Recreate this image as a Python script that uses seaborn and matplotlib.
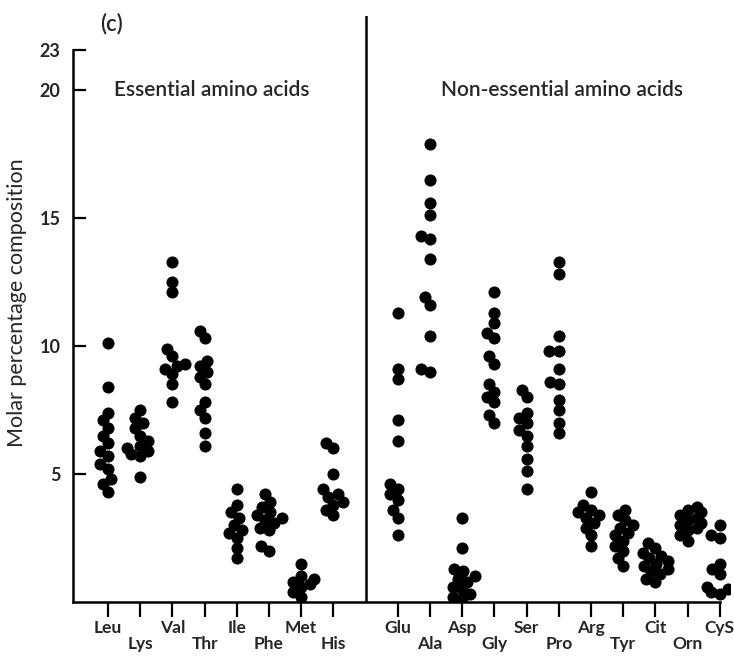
import warnings

import matplotlib.pyplot as plt
import numpy as np
import pandas as pd
import seaborn as sns

warnings.filterwarnings("ignore")

# values (molar % composition)
essential = ["Leu", "Lys", "Val", "Thr", "Ile", "Phe", "Met", "His"]
non_essential = ["Glu", "Ala", "Asp", "Gly", "Ser", "Pro", "Arg", "Tyr", "Cit", "Orn", "CyS"]

leu = [10.1, 8.4, 7.4, 7.1, 6.8, 6.5, 6.2, 5.9, 5.7, 5.4, 5.2, 4.8, 4.6, 4.3]
lys = [7.5, 7.2, 7.0, 6.8, 6.5, 6.3, 6.1, 6.0, 5.9, 5.8, 5.7, 4.9]
val = [13.3, 12.5, 12.1, 9.9, 9.6, 9.3, 9.2, 9.1, 8.9, 8.5, 7.8]
thr = [10.6, 10.3, 9.4, 9.2, 9.0, 8.8, 8.5, 7.8, 7.5, 7.2, 6.6, 6.1]
ile = [4.4, 3.8, 3.5, 3.3, 3.0, 2.8, 2.7, 2.5, 2.1, 1.7]
phe = [4.2, 3.9, 3.7, 3.5, 3.4, 3.3, 3.2, 3.1, 2.9, 2.8, 2.2, 2.0]
met = [1.5, 1.0, 0.9, 0.8, 0.7, 0.6, 0.4, 0.2]
his = [6.2, 6.0, 5.0, 4.4, 4.2, 4.1, 3.9, 3.8, 3.6, 3.4]

glu = [11.3, 9.1, 8.7, 7.1, 6.3, 4.6, 4.4, 4.2, 4.0, 3.6, 3.3, 2.6]
ala = [17.9, 16.5, 15.6, 15.1, 14.3, 14.2, 13.4, 11.9, 11.6, 10.4, 9.1, 9.0]
asp = [3.3, 2.1, 1.3, 1.2, 1.0, 0.9, 0.8, 0.6, 0.5, 0.3, 0.2, 0.1]
gly = [12.1, 11.3, 10.9, 10.5, 10.3, 9.6, 9.3, 8.5, 8.2, 8.0, 7.8, 7.3, 7.0]
ser = [8.3, 8.0, 7.4, 7.2, 7.0, 6.7, 6.5, 6.1, 5.6, 5.1, 4.4]
pro = [13.3, 12.8, 10.4, 9.8, 9.8, 9.1, 8.6, 8.5, 7.9, 7.5, 7.0, 6.6]
arg = [4.3, 3.8, 3.6, 3.5, 3.4, 3.3, 3.1, 2.9, 2.6, 2.2]
tyr = [3.6, 3.4, 3.2, 3.0, 2.9, 2.7, 2.6, 2.4, 2.2, 2.0, 1.7, 1.4]
cit = [2.3, 2.1, 1.9, 1.8, 1.7, 1.6, 1.5, 1.4, 1.3, 1.2, 1.1, 0.9, 0.8]
orn = [3.7, 3.6, 3.5, 3.4, 3.3, 3.2, 3.1, 3.0, 2.9, 2.8, 2.6, 2.4]
cys = [3.0, 2.6, 2.5, 1.5, 1.3, 1.1, 0.6, 0.5, 0.4, 0.3]

values = {
    "Leu": leu, "Lys": lys, "Val": val, "Thr": thr, "Ile": ile, "Phe": phe, "Met": met, "His": his,
    "Glu": glu, "Ala": ala, "Asp": asp, "Gly": gly, "Ser": ser, "Pro": pro, "Arg": arg, "Tyr": tyr,
    "Cit": cit, "Orn": orn, "CyS": cys,
}

y_ticks = [5, 10, 15, 20]
top_label = "23"

rows = [(acid, v) for acid, vals in values.items() for v in vals]
df = pd.DataFrame(rows, columns=["acid", "value"])

# empty slot between the two groups
order = essential + ["gap"] + non_essential

sns.set_style("white")
plt.rcParams["font.family"] = ["Lato", "DejaVu Sans"]

fig = plt.figure(figsize=(7.34, 6.61), dpi=100)
ax = fig.add_axes([73 / 734, 59 / 661, 656.5 / 734, 586.2 / 661])

# lay the swarm out with smaller markers so the dots overlap like the original
sns.swarmplot(data=df, x="acid", y="value", order=order, color="black", size=6.5,
              linewidth=0, ax=ax, warn_thresh=1.0)

ax.set_xlim(-1.087, 19.3)
ax.set_ylim(0, 22.9)
top_val = 21.56

fig.canvas.draw()
for coll in ax.collections:
    if "draw" in coll.__dict__:
        del coll.draw          # keep the computed swarm positions
    coll.set_sizes([8.7 ** 2])

# x ticks, labels alternate between two rows
positions = [i for i, name in enumerate(order) if name != "gap"]
labels = [name if k % 2 == 0 else "\n" + name
          for grp in (essential, non_essential) for k, name in enumerate(grp)]
ax.set_xticks(positions)
ax.set_xticklabels(labels, fontsize=12.5, fontweight="bold", linespacing=1.0)
ax.set_yticks(y_ticks + [top_val])
ax.set_yticklabels([str(t) for t in y_ticks] + [top_label], fontsize=13, fontweight="bold")
ax.tick_params(axis="x", direction="out", length=11, width=1.6, pad=2, color="black",
               bottom=True)
ax.tick_params(axis="y", direction="in", length=9.5, width=1.6, pad=9, color="black", left=True)
ax.set_xlabel("")
ax.set_ylabel("")

for side in ("top", "right"):
    ax.spines[side].set_visible(False)
for side in ("left", "bottom"):
    ax.spines[side].set_color("black")
    ax.spines[side].set_linewidth(1.8)
ax.spines["left"].set_bounds(0, top_val)
ax.spines["bottom"].set_bounds(-1.087, len(order) - 1)

# divider between essential and non-essential
ax.axvline(order.index("gap"), color="black", lw=1.8)

ax.text(-0.25, 22.6, "(c)", fontsize=16, fontweight="semibold", ha="left", va="center")
ax.text(3.23, 20.0, "Essential amino acids", fontsize=15, fontweight="semibold",
        ha="center", va="center")
ax.text(14.1, 20.0, "Non-essential amino acids", fontsize=15, fontweight="semibold",
        ha="center", va="center")
fig.text(17 / 734, 1 - 303 / 661, "Molar percentage composition", rotation=90,
         fontsize=15.5, ha="center", va="center")

fig.savefig("out.png", dpi=100)
